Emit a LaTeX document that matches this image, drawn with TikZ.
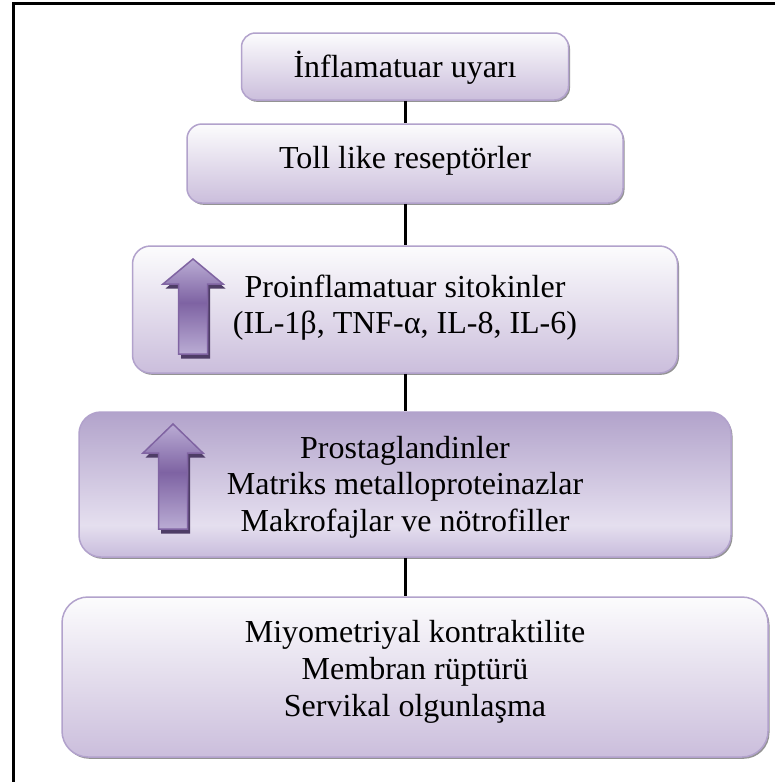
\documentclass[tikz,border=0pt]{standalone}
\usepackage{fontspec}
\setmainfont{Liberation Serif}
\usetikzlibrary{shadows}
\definecolor{lavborder}{RGB}{178,162,204}
\definecolor{lavtop}{RGB}{252,252,253}
\definecolor{lavbot}{RGB}{203,190,220}
\definecolor{bftop}{RGB}{178,163,203}
\definecolor{bfmid}{RGB}{229,223,239}
\definecolor{bfbot}{RGB}{200,188,220}
\definecolor{arrline}{RGB}{128,100,162}
\definecolor{arrlight}{RGB}{186,172,212}
\definecolor{arrdark}{RGB}{126,99,163}
\definecolor{arrshadow}{RGB}{78,61,102}
\pgfdeclareverticalshading{boxfour}{100bp}{color(0bp)=(bfbot); color(25bp)=(bfbot); color(36bp)=(bfmid); color(75bp)=(bftop); color(100bp)=(bftop)}
\pgfdeclareverticalshading{arrowshade}{100bp}{color(0bp)=(arrlight); color(25bp)=(arrlight); color(52bp)=(arrdark); color(75bp)=(arrlight); color(100bp)=(arrlight)}
\newcommand{\UpArrowShape}[4]{%
  \fill[arrshadow,shift={(2.5,4.5)}] (#1,#2) -- ({#1+30},#3) -- ({#1+14.5},#3) -- ({#1+14.5},#4) -- ({#1-14.5},#4) -- ({#1-14.5},#3) -- ({#1-30},#3) -- cycle;
  \path[shading=arrowshade,draw=arrline,line width=1.5pt,line join=miter] (#1,#2) -- ({#1+30},#3) -- ({#1+14.5},#3) -- ({#1+14.5},#4) -- ({#1-14.5},#4) -- ({#1-14.5},#3) -- ({#1-30},#3) -- cycle;
}
\tikzset{
  box/.style={rectangle, draw=lavborder, line width=1.5pt, inner sep=0pt,
    drop shadow={shadow xshift=1.5pt, shadow yshift=-1.8pt, fill=gray!85, opacity=1}},
  softbox/.style={box, top color=lavtop, bottom color=lavbot},
  darkbox/.style={box, shading=boxfour},
  txt/.style={font=\fontsize{32}{37}\selectfont, inner sep=0pt, anchor=base},
  link/.style={line width=3pt, black}
}
\begin{document}
\begin{tikzpicture}[x=1pt,y=-1pt]
\path[use as bounding box] (0,0) rectangle (775,782);
\clip (0,0) rectangle (775,782);
\fill[white] (0,0) rectangle (775,782);
\draw[line width=3pt] (13.5,800) -- (13.5,3.5) -- (800,3.5);

\node[softbox, rounded corners=14pt, minimum width=327pt, minimum height=67pt] (b1) at (405,66.5) {};
\node[softbox, rounded corners=15pt, minimum width=436pt, minimum height=79pt] (b2) at (405,163.5) {};
\node[softbox, rounded corners=18pt, minimum width=545pt, minimum height=127pt] (b3) at (405,309.5) {};
\node[darkbox, rounded corners=22pt, minimum width=652pt, minimum height=145pt] (b4) at (405,484.5) {};
\node[softbox, rounded corners=26pt, minimum width=706pt, minimum height=160pt] (b5) at (415,677) {};

\draw[link] (b1.south) -- (b2.north);
\draw[link] (b2.south) -- (b3.north);
\draw[link] (b3.south) -- (b4.north);
\draw[link] (b4.south) -- (b4.south |- b5.north);

\UpArrowShape{193}{259}{284}{354}
\UpArrowShape{173}{424}{453}{529}

\node[txt] (t1) at (405,77) {İnflamatuar uyarı};
\node[txt] (t2) at (405,168) {Toll like reseptörler};
\node[txt] (t3a) at (405,297) {Proinflamatuar sitokinler};
\node[txt] (t3b) at (405,333) {(IL-1β, TNF-α, IL-8, IL-6)};
\node[txt] (t4a) at (405,458) {Prostaglandinler};
\node[txt] (t4b) at (405,494) {Matriks metalloproteinazlar};
\node[txt] (t4c) at (405,531) {Makrofajlar ve nötrofiller};
\node[txt] (t5a) at (415,642) {Miyometriyal kontraktilite};
\node[txt] (t5b) at (415,679) {Membran rüptürü};
\node[txt] (t5c) at (415,716) {Servikal olgunlaşma};
\end{tikzpicture}
\end{document}
